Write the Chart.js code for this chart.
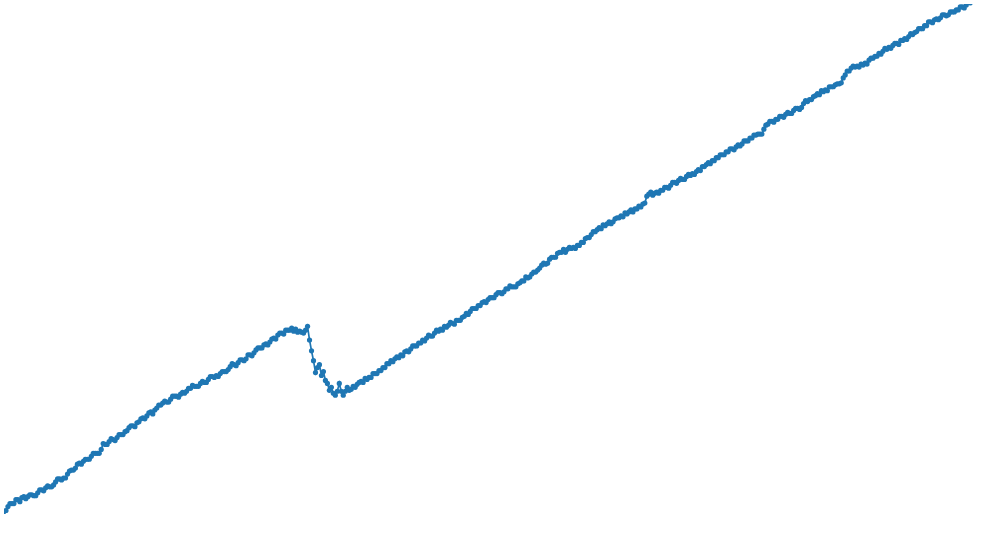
<!DOCTYPE html>
<html>
<head>
<meta charset="utf-8">
<script src="https://cdn.jsdelivr.net/npm/chart.js@4/dist/chart.umd.min.js"></script>
<style>
html,body{margin:0;padding:0;background:#fff;}
#wrap{width:999px;height:548px;}
</style>
</head>
<body>
<div id="wrap"><canvas id="c" width="999" height="548"></canvas></div>
<script>
// Series values (one sample per step along the x axis)
const seriesValues = [
33,34,38,41,41,41,45,45,43,47,
48,46,48,50,50,49,49,52,55,55,
54,57,59,58,58,60,63,66,66,65,
67,67,71,74,75,75,77,81,82,81,
84,86,86,86,89,92,92,92,92,96,
102,101,101,104,107,106,105,108,111,111,
111,114,115,118,120,120,119,123,124,127,
128,127,130,133,134,132,136,138,141,141,
143,145,144,144,147,150,150,150,149,152,
154,153,155,158,158,161,160,160,160,163,
165,164,164,167,170,170,169,171,170,173,
175,175,175,177,180,183,182,181,184,187,
187,186,188,192,192,191,194,197,199,199,
199,202,203,202,205,208,209,208,212,214,
214,213,217,217,217,219,216,218,215,216,
215,214,217,221,207,196,186,174,179,182,
171,175,166,163,156,159,153,151,155,163,
155,151,155,159,156,157,160,159,162,164,
165,164,168,167,169,169,173,173,173,176,
176,179,179,183,183,186,185,188,190,189,
192,191,195,196,195,198,201,201,201,204,
204,207,206,209,212,211,211,214,217,216,
218,217,221,220,222,225,224,223,227,227,
227,230,231,234,233,236,239,239,239,242,
242,245,246,245,248,250,250,250,253,255,
255,254,256,259,259,262,261,261,261,264,
265,267,267,271,270,271,274,276,276,278,
280,283,285,284,285,289,291,291,291,295,
296,296,299,296,299,301,300,301,300,303,
303,306,306,310,311,311,314,317,317,319,
321,320,324,323,325,327,325,327,330,331,
331,333,332,336,335,337,339,337,340,340,
343,342,345,346,353,355,357,354,356,357,
356,359,359,362,362,361,364,367,367,366,
369,371,370,370,373,375,374,376,375,378,
380,379,383,383,385,387,386,389,389,392,
392,395,395,395,398,398,401,401,400,403,
405,404,406,409,409,409,412,412,415,415,
416,416,416,421,425,426,429,429,428,431,
431,434,434,433,436,438,437,437,440,442,
442,441,443,447,450,449,451,451,454,455,
457,456,460,459,461,460,464,464,464,466,
467,467,468,473,476,480,480,483,485,484,
485,484,487,486,488,487,491,493,493,495,
495,498,497,500,503,502,504,503,506,508,
508,507,511,511,513,512,515,518,517,519,
520,523,523,523,526,526,530,530,529,532,
533,532,534,537,537,536,537,540,540,540,
542,542,545,545,544,547,550,549,551,551
];
const sampleIndex = seriesValues.map((_, i) => i);
const xRange = [0, 499.5];
const yRange = [0, 548];

const points = seriesValues.map((v, i) => ({x: sampleIndex[i], y: v}));

new Chart(document.getElementById('c'), {
  type: 'line',
  data: {
    datasets: [{
      data: points,
      borderColor: '#1f77b4',
      backgroundColor: '#1f77b4',
      pointBackgroundColor: '#1f77b4',
      pointBorderWidth: 0,
      pointRadius: 2.6,
      borderWidth: 1.7,
      tension: 0,
      fill: false
    }]
  },
  options: {
    responsive: false,
    animation: false,
    layout: {padding: 0},
    plugins: {legend: {display: false}, tooltip: {enabled: false}},
    scales: {
      x: {type: 'linear', display: false, min: xRange[0], max: xRange[1]},
      y: {type: 'linear', display: false, min: yRange[0], max: yRange[1]}
    }
  }
});
</script>
</body>
</html>
